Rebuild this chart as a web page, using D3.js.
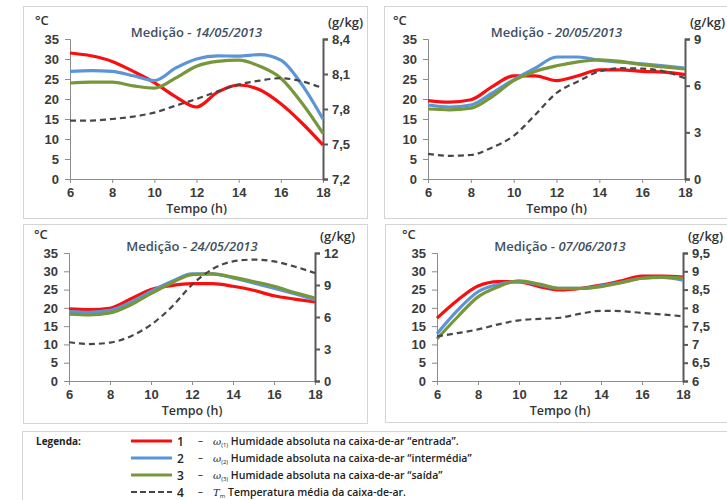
<!DOCTYPE html>
<html>
<head>
<meta charset="utf-8">
<script src="https://cdn.jsdelivr.net/npm/d3@7"></script>
<style>
  body { margin: 0; background: #fff; }
  svg { font-family: "Open Sans", "Liberation Sans", sans-serif; }
  .tick text { font-size: 13px; font-weight: 600; fill: #3a3a3a; }
</style>
</head>
<body>
<div id="chart"></div>
<script>
// hours on the x axis (same for every panel)
const hours = [6, 7, 8, 9, 10, 11, 12, 13, 14, 15, 16, 17, 18];
const xTicks = [6, 8, 10, 12, 14, 16, 18];
const leftTicks = [0, 5, 10, 15, 20, 25, 30, 35];

// panel titles
const dates = ["14/05/2013", "20/05/2013", "24/05/2013", "07/06/2013"];

// series values (left axis units)
const entrada = [
  [31.5, 30.8, 29.4, 26.9, 24.1, 20.6, 18.0, 21.7, 23.5, 22.3, 18.8, 14.0, 8.5],
  [19.6, 19.2, 19.8, 23.1, 25.8, 25.8, 24.6, 25.8, 27.3, 27.3, 26.9, 26.7, 26.1],
  [19.7, 19.5, 19.9, 22.4, 25.0, 26.1, 26.6, 26.6, 25.9, 24.8, 23.3, 22.4, 21.6],
  [17.2, 22.1, 26.0, 27.2, 27.1, 25.8, 24.9, 25.3, 26.2, 27.4, 28.7, 28.7, 28.4]
];
const intermedia = [
  [26.9, 27.1, 26.9, 25.8, 24.6, 27.7, 30.0, 30.8, 30.7, 31.1, 29.7, 23.6, 15.0],
  [18.5, 18.0, 18.5, 21.5, 24.8, 27.7, 30.5, 30.5, 29.7, 29.2, 28.8, 28.3, 27.7],
  [19.0, 18.8, 19.3, 21.5, 24.5, 27.2, 29.3, 29.3, 28.2, 26.8, 25.4, 23.9, 22.2],
  [12.9, 19.3, 24.4, 26.4, 27.2, 26.3, 25.3, 25.3, 26.0, 27.0, 28.1, 28.3, 27.6]
];
const saida = [
  [24.0, 24.2, 24.2, 23.3, 22.7, 25.2, 28.2, 29.4, 29.7, 28.2, 25.2, 19.0, 11.4],
  [17.5, 17.3, 17.7, 20.6, 24.6, 26.9, 28.3, 29.3, 29.8, 29.4, 28.6, 28.0, 27.5],
  [18.3, 18.1, 18.6, 20.8, 23.9, 26.8, 29.1, 29.3, 28.4, 27.2, 25.9, 24.2, 22.7],
  [11.5, 17.5, 23.0, 25.8, 27.4, 26.5, 25.3, 25.3, 25.8, 26.9, 28.1, 28.4, 28.1]
];
const tMedia = [
  [14.6, 14.6, 15.0, 15.6, 16.6, 18.3, 20.0, 21.9, 23.6, 24.6, 25.2, 24.4, 22.7],
  [6.3, 5.8, 6.0, 7.9, 10.8, 16.0, 21.5, 24.4, 26.9, 27.7, 27.6, 26.9, 25.2],
  [10.6, 10.1, 10.5, 12.2, 15.4, 20.2, 26.3, 30.6, 32.7, 33.2, 32.7, 31.3, 29.5],
  [12.2, 13.1, 14.1, 15.5, 16.6, 17.0, 17.3, 18.4, 19.2, 19.1, 18.6, 18.2, 17.7]
];

// right axis (g/kg) ticks for each panel
const rightTicks = [
  [7.2, 7.5, 7.8, 8.1, 8.4],
  [0, 3, 6, 9],
  [0, 3, 6, 9, 12],
  [6, 6.5, 7, 7.5, 8, 8.5, 9, 9.5]
];

const legendLabels = [
  {n: "1", sym: "ω", sub: "(1)", text: "Humidade absoluta na caixa-de-ar \u201centrada\u201d."},
  {n: "2", sym: "ω", sub: "(2)", text: "Humidade absoluta na caixa-de-ar \u201cintermédia\u201d"},
  {n: "3", sym: "ω", sub: "(3)", text: "Humidade absoluta na caixa-de-ar \u201csaída\u201d"},
  {n: "4", sym: "T", sub: "m", text: "Temperatura média da caixa-de-ar."}
];

const colors = ["#f80f0f", "#5b95d8", "#77973a", "#474747"];

// panel boxes and plot areas
const panels = [
  {box: [23, 6, 367, 218], x0: 70, x1: 323, yT: 39, yB: 179},
  {box: [384, 6, 727, 218], x0: 428, x1: 685, yT: 39, yB: 179},
  {box: [23, 224, 367, 423], x0: 69, x1: 315, yT: 253, yB: 381},
  {box: [385, 224, 727, 422], x0: 437, x1: 683, yT: 253, yB: 381}
];

const svg = d3.select("#chart").append("svg")
    .attr("width", 727)
    .attr("height", 500);

const fmt = d => String(d).replace(".", ",");

panels.forEach((p, i) => {
  const g = svg.append("g");

  g.append("rect")
    .attr("x", p.box[0] + 0.5).attr("y", p.box[1] + 0.5)
    .attr("width", p.box[2] - p.box[0]).attr("height", p.box[3] - p.box[1])
    .attr("fill", "none").attr("stroke", "#d4d4d4");

  const x = d3.scaleLinear().domain([6, 18]).range([p.x0, p.x1]);
  const y = d3.scaleLinear().domain([0, 35]).range([p.yB, p.yT]);
  const rt = rightTicks[i];
  const yR = d3.scaleLinear().domain([rt[0], rt[rt.length - 1]]).range([p.yB, p.yT]);

  // left axis
  const ax = g.append("g")
    .attr("transform", `translate(${p.x0},0)`)
    .call(d3.axisLeft(y).tickValues(leftTicks).tickSize(5).tickPadding(6));
  ax.selectAll("line, path").attr("stroke", "#8c8c8c");

  // bottom axis
  const bx = g.append("g")
    .attr("transform", `translate(0,${p.yB})`)
    .call(d3.axisBottom(x).tickValues(xTicks).tickSize(4).tickPadding(5));
  bx.selectAll("line, path").attr("stroke", "#8c8c8c");

  // right axis
  const rx = g.append("g")
    .attr("transform", `translate(${p.x1},0)`)
    .call(d3.axisRight(yR).tickValues(rt).tickFormat(fmt).tickSize(5).tickPadding(4));
  rx.selectAll("line, path").attr("stroke", "#595959").attr("stroke-width", 2);

  // lines
  const line = d3.line()
    .x((d, k) => x(hours[k]))
    .y(d => y(d))
    .curve(d3.curveMonotoneX);

  const series = [entrada[i], intermedia[i], saida[i]];
  series.forEach((s, k) => {
    g.append("path")
      .datum(s)
      .attr("d", line)
      .attr("fill", "none")
      .attr("stroke", colors[k])
      .attr("stroke-width", 3.2)
      .attr("stroke-linejoin", "round");
  });
  g.append("path")
    .datum(tMedia[i])
    .attr("d", line)
    .attr("fill", "none")
    .attr("stroke", colors[3])
    .attr("stroke-width", 2.2)
    .attr("stroke-dasharray", "6,4");

  // labels
  const midX = (p.x0 + p.x1) / 2;
  g.append("text")
    .attr("x", p.x0 - 35).attr("y", p.yT - 14)
    .attr("font-size", 13).attr("font-weight", 600).attr("fill", "#333")
    .text("°C");
  g.append("text")
    .attr("x", p.x1 + 5).attr("y", p.yT - 12)
    .attr("font-size", 13).attr("font-weight", 600).attr("fill", "#333")
    .text("(g/kg)");
  const t = g.append("text")
    .attr("x", midX).attr("y", p.yT - 2)
    .attr("text-anchor", "middle")
    .attr("font-size", 13).attr("font-weight", 600).attr("fill", "#3f4f5f");
  t.append("tspan").text("Medição - ");
  t.append("tspan").attr("font-style", "italic").text(dates[i]);
  g.append("text")
    .attr("x", midX).attr("y", p.yB + 34)
    .attr("text-anchor", "middle")
    .attr("font-size", 12.5).attr("font-weight", 600).attr("fill", "#333")
    .text("Tempo (h)");
});

// legend
const lg = svg.append("g");
lg.append("rect")
  .attr("x", 22.5).attr("y", 431.5).attr("width", 720).attr("height", 100)
  .attr("fill", "none").attr("stroke", "#d4d4d4");
lg.append("text")
  .attr("x", 36).attr("y", 445)
  .attr("font-size", 10).attr("font-weight", 700).attr("fill", "#222")
  .text("Legenda:");

legendLabels.forEach((d, k) => {
  const yy = 441 + k * 17;
  lg.append("line")
    .attr("x1", 131).attr("x2", 172).attr("y1", yy).attr("y2", yy)
    .attr("stroke", colors[k])
    .attr("stroke-width", k === 3 ? 2.2 : 3.2)
    .attr("stroke-dasharray", k === 3 ? "6,3" : null);
  lg.append("text")
    .attr("x", 177).attr("y", yy + 4.5)
    .attr("font-size", 12).attr("font-weight", 600).attr("fill", "#222")
    .text(d.n);
  lg.append("text")
    .attr("x", 198).attr("y", yy + 3)
    .attr("font-size", 10).attr("fill", "#222")
    .text("\u2013");
  const tx = lg.append("text")
    .attr("x", 213).attr("y", yy + 3.5)
    .attr("font-size", 10.5).attr("font-weight", 600).attr("fill", "#222");
  tx.append("tspan").attr("font-style", "italic").attr("font-family", "DejaVu Serif")
    .attr("font-weight", 400).attr("font-size", 10).text(d.sym);
  tx.append("tspan").attr("font-size", 6).attr("font-weight", 400).attr("dy", 2).text(d.sub);
  tx.append("tspan").attr("dy", -2).text(" " + d.text);
});
</script>
</body>
</html>
